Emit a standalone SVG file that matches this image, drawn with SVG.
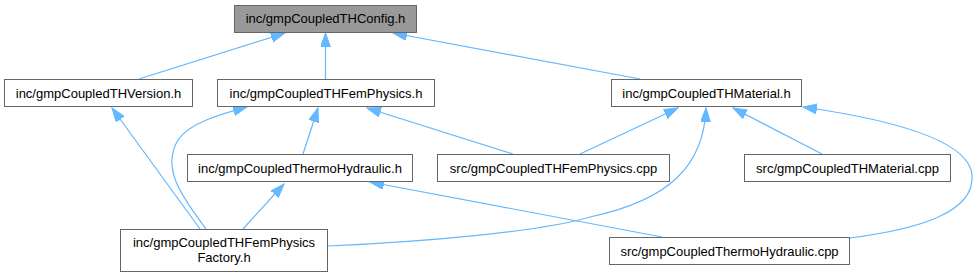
<svg xmlns="http://www.w3.org/2000/svg" width="978" height="277" viewBox="0 0 978 277">
<style>
.box{fill:#ffffff;stroke:#666666;stroke-width:1}
.root{fill:#999999;stroke:#666666;stroke-width:1}
text{font-family:"Liberation Sans",Arial,sans-serif;font-size:13px;fill:#000000;text-anchor:middle}
.e{fill:none;stroke:#63b8ff;stroke-width:1.2;marker-end:url(#ah)}
</style>
<defs>
<marker id="ah" markerUnits="userSpaceOnUse" markerWidth="15" markerHeight="11" refX="14" refY="5" orient="auto" viewBox="0 0 15 11">
<path d="M0,0 L14,5 L0,10 z" fill="#63b8ff" stroke="#63b8ff" stroke-width="1"/>
</marker>
</defs>
<rect width="978" height="277" fill="#ffffff"/>
<g id="edges">
<path class="e" d="M139,79 L285,33"/>
<path class="e" d="M325.5,79 L325.5,33"/>
<path class="e" d="M640,79 L393,33"/>
<path class="e" d="M200,229 L112,108"/>
<path class="e" d="M206,229 C185,200 160,170 178,140 C190,122 225,113 247,107"/>
<path class="e" d="M303,154 L318,108"/>
<path class="e" d="M513,154 L367,108"/>
<path class="e" d="M580,154 L678,108"/>
<path class="e" d="M328,246 C420,242 540,232 590,217 C670,200 704,165 706,108"/>
<path class="e" d="M822,154 L733,108"/>
<path class="e" d="M850,238 C920,229 975,212 972,175 C969,138 880,118 803,107"/>
<path class="e" d="M243,229 L284,184"/>
<path class="e" d="M662,237 L370,182"/>
</g>
<g id="config"><rect class="root" x="234.5" y="5.5" width="182" height="27"/><text x="325.5" y="23">inc/gmpCoupledTHConfig.h</text></g>
<g id="version"><rect class="box" x="4.5" y="79.5" width="188" height="27"/><text x="98.5" y="97.5">inc/gmpCoupledTHVersion.h</text></g>
<g id="femphysics_h"><rect class="box" x="217.5" y="79.5" width="217" height="27"/><text x="326" y="97.5">inc/gmpCoupledTHFemPhysics.h</text></g>
<g id="material_h"><rect class="box" x="611.5" y="79.5" width="190" height="27"/><text x="706.5" y="97.5">inc/gmpCoupledTHMaterial.h</text></g>
<g id="thermohydraulic_h"><rect class="box" x="187.5" y="154.5" width="225" height="27"/><text x="300" y="172.5">inc/gmpCoupledThermoHydraulic.h</text></g>
<g id="femphysics_cpp"><rect class="box" x="437.5" y="154.5" width="232" height="27"/><text x="553.5" y="172.5">src/gmpCoupledTHFemPhysics.cpp</text></g>
<g id="material_cpp"><rect class="box" x="744.5" y="154.5" width="206" height="27"/><text x="847.5" y="172.5">src/gmpCoupledTHMaterial.cpp</text></g>
<g id="factory_h"><rect class="box" x="120.5" y="229.5" width="207" height="42"/><text x="224" y="247">inc/gmpCoupledTHFemPhysics</text><text x="224" y="262">Factory.h</text></g>
<g id="thermohydraulic_cpp"><rect class="box" x="609.5" y="237.5" width="240" height="27"/><text x="729.5" y="255.5">src/gmpCoupledThermoHydraulic.cpp</text></g>
</svg>
